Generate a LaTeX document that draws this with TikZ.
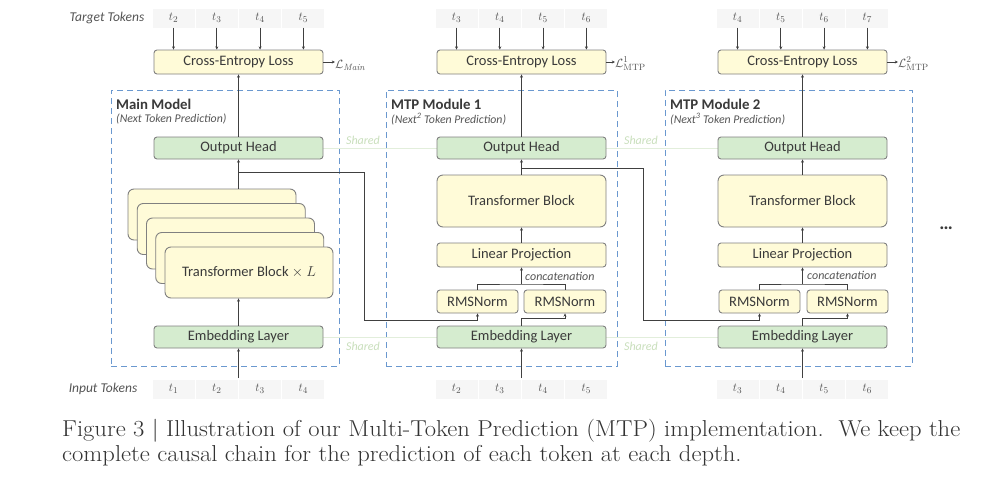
\documentclass[tikz,border=0pt]{standalone}
\usepackage{fontspec}
\setsansfont{Carlito}
\usetikzlibrary{arrows.meta,calc}
\definecolor{yfill}{HTML}{FFFBD8}
\definecolor{gfill}{HTML}{D5ECCF}
\definecolor{bordc}{HTML}{808080}
\definecolor{txtc}{HTML}{3A3A3A}
\definecolor{arrc}{HTML}{404040}
\definecolor{dashc}{HTML}{6A98CF}
\definecolor{shc}{HTML}{C9DFBC}
\definecolor{shl}{HTML}{E2EEDB}
\definecolor{tokbg}{HTML}{F6F6F6}
\definecolor{lblc}{HTML}{555555}
\begin{document}
\begin{tikzpicture}[x=1pt,y=-1pt,
  blk/.style={draw=bordc, line width=0.9pt, rounded corners=3pt, inner sep=0pt,
    font=\sffamily\fontsize{14.5}{16}\selectfont, text=txtc},
  yb/.style={blk, fill=yfill},
  gb/.style={blk, fill=gfill},
  wh/.style 2 args={minimum width=#1pt, minimum height=#2pt},
  arr/.style={draw=arrc, line width=0.8pt, -{Stealth[length=3.2pt,width=3pt]}},
  plainline/.style={draw=arrc, line width=0.8pt},
  tok/.style={fill=tokbg, minimum width=42pt, minimum height=19pt, inner sep=0pt,
    text=lblc, font=\fontsize{13}{15}\selectfont},
  tlabel/.style={text=lblc, font=\sffamily\itshape\fontsize{13.5}{15}\selectfont},
  dbox/.style={draw=dashc, line width=1pt, dash pattern=on 6pt off 4pt, inner sep=0pt},
  ttl/.style={anchor=west, text=txtc, font=\sffamily\bfseries\fontsize{14.8}{16}\selectfont, inner sep=0pt},
  subttl/.style={anchor=west, text=lblc, font=\sffamily\itshape\fontsize{11.8}{13}\selectfont, inner sep=0pt},
  sharedlbl/.style={text=shc, font=\sffamily\itshape\fontsize{12}{14}\selectfont, inner sep=0pt},
  shline/.style={draw=shl, line width=0.8pt},
  concat/.style={anchor=west, inner sep=0pt, text=lblc, font=\sffamily\itshape\fontsize{12}{14}\selectfont},
  losslbl/.style={anchor=west, text=lblc, inner sep=0pt, font=\fontsize{13}{15}\selectfont},
  captext/.style={anchor=base west, inner sep=0pt, text=black!80, font=\rmfamily\fontsize{23}{27}\selectfont}
]
\useasboundingbox[fill=white] (0,0) rectangle (984,490);

% dashed module frames
\node[dbox, wh={228}{276}] (fm0) at (225,228) {};
\node[dbox, wh={231}{276}] (fm1) at (501.5,228) {};
\node[dbox, wh={247}{276}] (fm2) at (788.5,228) {};

% titles
\node[ttl] (t0) at (116,104) {Main Model};
\node[subttl] (s0) at (116,119) {(Next Token Prediction)};
\node[ttl] (t1) at (391,104) {MTP Module 1};
\node[subttl] (s1) at (391,119) {(Next\textsuperscript{2} Token Prediction)};
\node[ttl] (t2) at (670,104) {MTP Module 2};
\node[subttl] (s2) at (670,119) {(Next\textsuperscript{3} Token Prediction)};

% token labels
\node[tlabel] (tt) at (107,18) {Target Tokens};
\node[tlabel] (it) at (103,389) {Input Tokens};

% shared lines
\draw[shline] (323,148) -- (437,148);
\draw[shline] (606,148) -- (718,148);
\draw[shline] (323,337) -- (437,337);
\draw[shline] (606,337) -- (718,337);

% ---------- main model ----------
\node[yb, wh={169}{24}] (ce0) at (238.5,62) {Cross-Entropy Loss};
\node[gb, wh={169}{22}] (oh0) at (238.5,148) {Output Head};
\foreach \i in {0,...,4} {
  \node[yb, wh={168}{51}, rounded corners=6pt] (tb0\i) at ({212+9.25*\i},{214.5+14.5*\i}) {};
}
\node[blk, draw=none] (tbl) at (tb04.center) {Transformer Block $\times$ $L$};
\node[gb, wh={169}{22}] (emb0) at (238.5,337) {Embedding Layer};

% ---------- MTP module 1 ----------
\node[yb, wh={169}{24}] (ce1) at (521.5,62) {Cross-Entropy Loss};
\node[gb, wh={169}{22}] (oh1) at (521.5,148) {Output Head};
\node[yb, wh={169}{52}, rounded corners=6pt] (tb1) at (521.5,201) {Transformer Block};
\node[yb, wh={169}{24}] (lp1) at (521.5,255) {Linear Projection};
\node[yb, wh={81}{23}] (r1a) at (477.5,301.5) {RMSNorm};
\node[yb, wh={82}{23}] (r1b) at (565,301.5) {RMSNorm};
\node[gb, wh={169}{22}] (emb1) at (521.5,337) {Embedding Layer};

% ---------- MTP module 2 ----------
\node[yb, wh={169}{24}] (ce2) at (802.5,62) {Cross-Entropy Loss};
\node[gb, wh={169}{22}] (oh2) at (802.5,148) {Output Head};
\node[yb, wh={169}{52}, rounded corners=6pt] (tb2) at (802.5,201) {Transformer Block};
\node[yb, wh={169}{24}] (lp2) at (802.5,255) {Linear Projection};
\node[yb, wh={81}{23}] (r2a) at (759.5,301.5) {RMSNorm};
\node[yb, wh={81}{23}] (r2b) at (847.5,301.5) {RMSNorm};
\node[gb, wh={169}{22}] (emb2) at (802.5,337) {Embedding Layer};

% shared labels
\node[sharedlbl] (sh1) at (363,140) {Shared};
\node[sharedlbl] (sh2) at (641,140) {Shared};
\node[sharedlbl] (sh3) at (363,346) {Shared};
\node[sharedlbl] (sh4) at (641,346) {Shared};

% concatenation labels
\node[concat] (cn1) at (525,276) {concatenation};
\node[concat] (cn2) at (807,275) {concatenation};

% tokens
\foreach \k in {0,...,3} {
  \pgfmathtruncatemacro{\a}{\k+2}
  \pgfmathtruncatemacro{\b}{\k+3}
  \pgfmathtruncatemacro{\c}{\k+4}
  \pgfmathtruncatemacro{\d}{\k+1}
  \node[tok] (ga\k) at ({173.5+43.3*\k},18) {$t_{\a}$};
  \node[tok] (gb\k) at ({456.5+43.3*\k},18) {$t_{\b}$};
  \node[tok] (gc\k) at ({737.5+43.3*\k},18) {$t_{\c}$};
  \node[tok] (ia\k) at ({173.5+43.3*\k},389) {$t_{\d}$};
  \node[tok] (ib\k) at ({456.5+43.3*\k},389) {$t_{\a}$};
  \node[tok] (ic\k) at ({737.5+43.3*\k},389) {$t_{\b}$};
  \draw[arr] (ga\k.south) -- (ga\k.south |- ce0.north);
  \draw[arr] (gb\k.south) -- (gb\k.south |- ce1.north);
  \draw[arr] (gc\k.south) -- (gc\k.south |- ce2.north);
}

% losses
\node[losslbl] (l0) at (335,65) {$\mathcal{L}_{\mathit{Main}}$};
\node[losslbl] (l1) at (615,64) {$\mathcal{L}^{1}_{\mathrm{MTP}}$};
\node[losslbl] (l2) at (898,64) {$\mathcal{L}^{2}_{\mathrm{MTP}}$};
\draw[arr] (ce0.east) -- (l0.west |- ce0.east);
\draw[arr] (ce1.east) -- (l1.west |- ce1.east);
\draw[arr] (ce2.east) -- (l2.west |- ce2.east);

% dots
\node[text=txtc, font=\sffamily\bfseries\fontsize{19}{20}\selectfont] (dots) at (946,228) {\ldots};

% coordinates
\coordinate (in0) at (238.5,378);
\coordinate (in1) at (521.5,378);
\coordinate (in2) at (802.5,378);
\coordinate (br0) at (238.5,172);
\coordinate (k0) at (364,320);
\coordinate (br1) at (521.5,168);
\coordinate (k1) at (643,320);
\coordinate (cc1) at (521.5,284);
\coordinate (cc2) at (802.5,284);

% main connectors
\draw[arr] (oh0.north) -- (ce0.south);
\draw[arr] (oh0.south |- tb00.north) -- (oh0.south);
\draw[arr] (emb0.north) -- (emb0.north |- tb04.south);
\draw[arr] (in0) -- (emb0.south);
\draw[arr] (br0) -| (k0) -| (r1a.south);

% mtp1 connectors
\draw[arr] (oh1.north) -- (ce1.south);
\draw[arr] (tb1.north) -- (oh1.south);
\draw[arr] (lp1.north) -- (tb1.south);
\draw[plainline] (r1a.north) |- (cc1) -| (r1b.north);
\draw[arr] (cc1) -- (lp1.south);
\draw[arr] (emb1.north) -- ++(0,-7) -| (r1b.south);
\draw[arr] (in1) -- (emb1.south);
\draw[arr] (br1) -| (k1) -| (r2a.south);

% mtp2 connectors
\draw[arr] (oh2.north) -- (ce2.south);
\draw[arr] (tb2.north) -- (oh2.south);
\draw[arr] (lp2.north) -- (tb2.south);
\draw[plainline] (r2a.north) |- (cc2) -| (r2b.north);
\draw[arr] (cc2) -- (lp2.south);
\draw[arr] (emb2.north) -- ++(0,-7) -| (r2b.south);
\draw[arr] (in2) -- (emb2.south);

% caption
\node[captext] (c1) at (62,436) {\scalebox{1.07}[1]{Figure 3 | Illustration of our Multi-Token Prediction (MTP) implementation.\ \ We keep the}};
\node[captext] (c2) at (62,461) {\scalebox{1.07}[1]{complete causal chain for the prediction of each token at each depth.}};
\end{tikzpicture}
\end{document}
